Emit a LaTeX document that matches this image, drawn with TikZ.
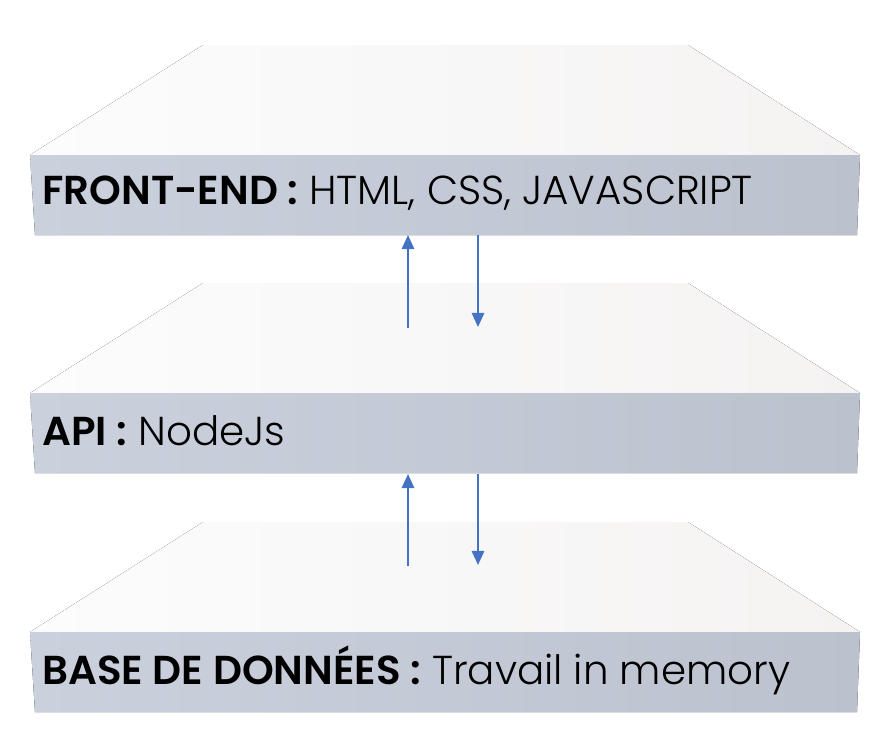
\documentclass[tikz,border=0pt]{standalone}
\usepackage{fontspec}
\setmainfont{Poppins}[UprightFont=* Light, BoldFont=* SemiBold]
\usetikzlibrary{positioning, arrows.meta}

\definecolor{faceleft}{RGB}{202,209,221}
\definecolor{faceright}{RGB}{188,193,206}
\definecolor{topleft}{RGB}{252,252,253}
\definecolor{topright}{RGB}{245,243,242}
\definecolor{arrowblue}{RGB}{68,114,196}

\tikzset{
    face/.style = {left color=faceleft, right color=faceright, draw=none},
    lid/.style = {left color=topleft, right color=topright, draw=none},
    label/.style = {anchor=west, inner sep=0pt, font=\fontsize{23}{27}\selectfont},
    flow/.style = {draw=arrowblue, line width=1.2pt, -{Triangle[length=8pt, width=7pt]}}
}

\begin{document}
\begin{tikzpicture}[x=0.02cm, y=-0.02cm]
                \useasboundingbox (0, 0) rectangle (896, 752);

                % the three layers
                \foreach \t in {0, 238, 477} {
                    \fill [lid] (203, 45+\t) -- (688, 45+\t) -- (860, 155+\t) -- (30, 155+\t) -- cycle;
                    \fill [face] (30, 155+\t) -- (860, 155+\t) -- (857, 235+\t) -- (35, 235+\t) -- cycle;
                }

                \node [label] (front) at (42, 193) {\textbf{FRONT-END :} HTML, CSS, JAVASCRIPT};
                \node [label] (api) at (42, 431) {\textbf{API :} NodeJs};
                \node [label] (db) at (42, 670) {\textbf{BASE DE DONNÉES :} Travail in memory};

                \coordinate (frontup) at (408, 235);
                \coordinate (frontdown) at (478, 235);
                \coordinate (apiup) at (408, 328);
                \coordinate (apidown) at (478, 327);
                \coordinate (apiup2) at (408, 474);
                \coordinate (apidown2) at (478, 474);
                \coordinate (dbup) at (408, 566);
                \coordinate (dbdown) at (478, 565);

                \draw [flow] (apiup) -- (frontup);
                \draw [flow] (frontdown) -- (apidown);
                \draw [flow] (dbup) -- (apiup2);
                \draw [flow] (apidown2) -- (dbdown);
            \end{tikzpicture}
\end{document}
